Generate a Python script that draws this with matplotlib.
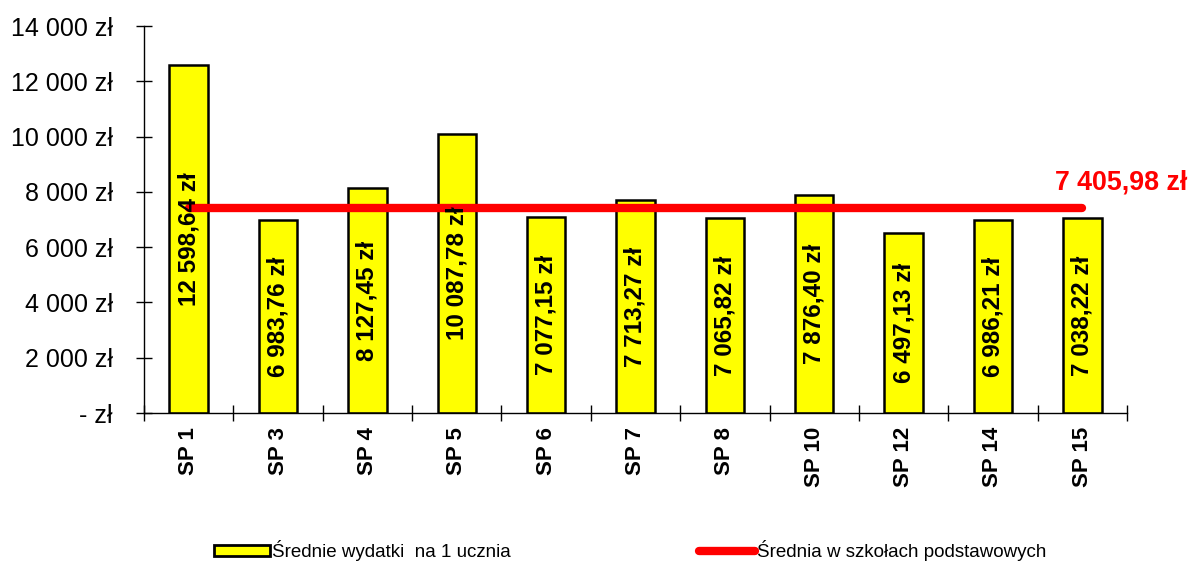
import numpy as np
import matplotlib.pyplot as plt
from matplotlib.patches import Patch
from matplotlib.lines import Line2D

plt.rcParams['font.family'] = ['Liberation Sans', 'DejaVu Sans']

# data
schools = ['SP 1', 'SP 3', 'SP 4', 'SP 5', 'SP 6', 'SP 7', 'SP 8', 'SP 10', 'SP 12', 'SP 14', 'SP 15']
spend = [12598.64, 6983.76, 8127.45, 10087.78, 7077.15, 7713.27, 7065.82, 7876.40, 6497.13, 6986.21, 7038.22]
avg = 7405.98


def pln(v, dec=2):
    s = f"{v:,.{dec}f}".replace(',', ' ').replace('.', ',')
    return s + ' zł'


fig = plt.figure(figsize=(11.96, 5.63), dpi=100)
ax = fig.add_axes([0.1204, 0.2664, 0.8219, 0.6874])

x = np.arange(len(schools))
bars = ax.bar(x, spend, width=0.43, color='#ffff00', edgecolor='black', linewidth=1.8, zorder=2)

for xi, v in zip(x, spend):
    ax.text(xi, v / 2, pln(v), rotation=90, ha='center', va='center',
            fontsize=17.5, fontweight='bold', zorder=4)

ax.plot([x[0], x[-1]], [avg, avg], color='#ff0000', lw=6, solid_capstyle='round', zorder=3)
ax.text(x[-1] - 0.31, avg + 930, pln(avg), color='#ff0000', fontsize=19.3,
        fontweight='bold', ha='left', va='center', clip_on=False)

ax.set_xlim(-0.5, len(schools) - 0.5)
ax.set_ylim(0, 14000)
ax.set_yticks(np.arange(0, 14001, 2000))
ax.set_yticklabels(['- zł'] + [pln(v, 0) for v in range(2000, 14001, 2000)], fontsize=18)
ax.set_xticks(x)
ax.set_xticklabels(schools, rotation=90, fontsize=16, fontweight='bold')
ax.set_xticks(np.arange(-0.5, len(schools)), minor=True)
ax.tick_params(axis='x', which='major', length=0, pad=10)
ax.tick_params(axis='x', which='minor', direction='inout', length=12, width=1)
ax.tick_params(axis='y', direction='inout', length=11, width=1, pad=17)

for s in ['top', 'right']:
    ax.spines[s].set_visible(False)
for s in ['left', 'bottom']:
    ax.spines[s].set_linewidth(1)

handles = [Patch(facecolor='#ffff00', edgecolor='black', linewidth=2),
           Line2D([0], [0], color='#ff0000', lw=6, solid_capstyle='round')]
labels = ['Średnie wydatki  na 1 ucznia', 'Średnia w szkołach podstawowych']
fig.legend(handles, labels, loc='center left', bbox_to_anchor=(0.165, 0.022), ncol=2,
           frameon=False, fontsize=13.5, columnspacing=10.0, handlelength=3.0,
           handletextpad=0.1, handleheight=0.6)

fig.savefig('out.png', dpi=100)
